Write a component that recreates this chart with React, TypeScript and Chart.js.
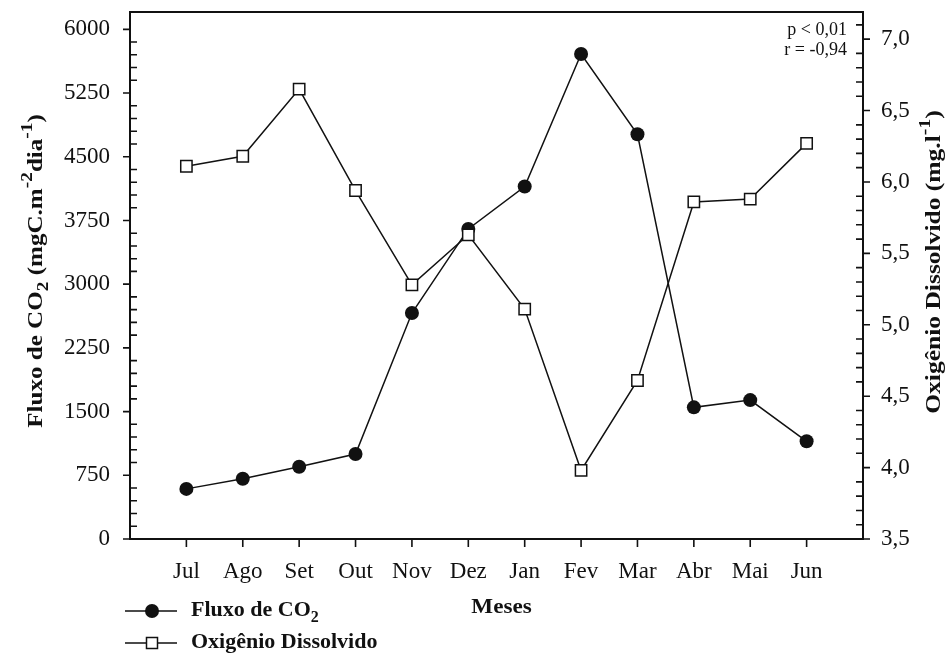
import React, { useEffect, useRef } from 'react';
import { Chart, registerables } from 'chart.js';

Chart.register(...registerables);

// Monthly series
const months = ['Jul', 'Ago', 'Set', 'Out', 'Nov', 'Dez', 'Jan', 'Fev', 'Mar', 'Abr', 'Mai', 'Jun'];
const co2Flux = [590, 710, 850, 1000, 2660, 3650, 4150, 5710, 4765, 1550, 1635, 1150];
const dissolvedO2 = [6.11, 6.18, 6.65, 5.94, 5.28, 5.63, 5.11, 3.98, 4.61, 5.86, 5.88, 6.27];

// Axis tick values
const fluxTicks = [0, 750, 1500, 2250, 3000, 3750, 4500, 5250, 6000];
const oxygenTicks = [3.5, 4.0, 4.5, 5.0, 5.5, 6.0, 6.5, 7.0];

// Correlation statistics shown in the corner
const statsLines = ['p < 0,01', 'r = -0,94'];

const FONT = '"Liberation Serif", "Times New Roman", serif';
const INK = '#111';

type Seg = { t: string; size: number; dy: number };

// Draws a run of text pieces (with sub/superscripts) on one baseline,
// optionally stretched along the text direction.
function drawRich(
  ctx: CanvasRenderingContext2D,
  segs: Seg[],
  x: number,
  y: number,
  align: 'left' | 'center',
  weight: string,
  sx = 1
) {
  let total = 0;
  for (const s of segs) {
    ctx.font = `${weight} ${s.size}px ${FONT}`;
    total += ctx.measureText(s.t).width;
  }
  ctx.save();
  ctx.translate(x, y);
  ctx.scale(sx, 1);
  let cx = align === 'center' ? -total / 2 : 0;
  ctx.textAlign = 'left';
  ctx.textBaseline = 'alphabetic';
  for (const s of segs) {
    ctx.font = `${weight} ${s.size}px ${FONT}`;
    ctx.fillText(s.t, cx, s.dy);
    cx += ctx.measureText(s.t).width;
  }
  ctx.restore();
}

const fluxTitle: Seg[] = [
  { t: 'Fluxo de CO', size: 22, dy: 0 },
  { t: '2', size: 17, dy: 6 },
  { t: ' (mgC.m', size: 22, dy: 0 },
  { t: '-2', size: 17, dy: -10 },
  { t: 'dia', size: 22, dy: 0 },
  { t: '-1', size: 17, dy: -10 },
  { t: ')', size: 22, dy: 0 },
];

const oxygenTitle: Seg[] = [
  { t: 'Oxigênio Dissolvido (mg.l', size: 22, dy: 0 },
  { t: '-1', size: 17, dy: -10 },
  { t: ')', size: 22, dy: 0 },
];

const fluxLegend: Seg[] = [
  { t: 'Fluxo de CO', size: 22, dy: 0 },
  { t: '2', size: 16, dy: 6 },
];

const decorPlugin = {
  id: 'decor',
  afterDraw(chart: any) {
    const { ctx, chartArea: a, scales } = chart;
    const xs = scales.x;
    const yl = scales.yFlux;
    const yr = scales.yO2;
    ctx.save();
    ctx.strokeStyle = INK;
    ctx.fillStyle = INK;

    // frame
    ctx.lineWidth = 2;
    ctx.strokeRect(a.left, a.top, a.right - a.left, a.bottom - a.top);

    ctx.lineWidth = 1.6;
    ctx.beginPath();
    // left axis: major ticks outward, minor ticks inward
    const fStep = (fluxTicks[1] - fluxTicks[0]) / 5;
    const fCount = Math.round((fluxTicks[fluxTicks.length - 1] - fluxTicks[0]) / fStep);
    for (let i = 0; i <= fCount; i++) {
      const py = yl.getPixelForValue(fluxTicks[0] + i * fStep);
      if (i % 5 === 0) {
        ctx.moveTo(a.left - 7, py);
        ctx.lineTo(a.left, py);
      } else {
        ctx.moveTo(a.left, py);
        ctx.lineTo(a.left + 7, py);
      }
    }
    // right axis
    const oStep = (oxygenTicks[1] - oxygenTicks[0]) / 5;
    for (let i = 0; ; i++) {
      const v = oxygenTicks[0] + i * oStep;
      if (v > yr.max + 1e-9) break;
      const py = yr.getPixelForValue(v);
      if (i % 5 === 0) {
        ctx.moveTo(a.right, py);
        ctx.lineTo(a.right + 7, py);
      } else {
        ctx.moveTo(a.right - 7, py);
        ctx.lineTo(a.right, py);
      }
    }
    // month ticks
    months.forEach((_, i) => {
      const px = xs.getPixelForValue(i + 1);
      ctx.moveTo(px, a.bottom);
      ctx.lineTo(px, a.bottom + 8);
    });
    ctx.stroke();

    // axis titles
    ctx.save();
    ctx.translate(42, 271);
    ctx.rotate(-Math.PI / 2);
    drawRich(ctx, fluxTitle, 0, 0, 'center', 'bold', 1.14);
    ctx.restore();

    ctx.save();
    ctx.translate(940, 262);
    ctx.rotate(-Math.PI / 2);
    drawRich(ctx, oxygenTitle, 0, 0, 'center', 'bold', 1.16);
    ctx.restore();

    // x title
    drawRich(ctx, [{ t: 'Meses', size: 22, dy: 0 }], (a.left + a.right) / 2 + 5, 613, 'center', 'bold', 1.05);

    // statistics
    ctx.font = `18px ${FONT}`;
    ctx.textAlign = 'right';
    ctx.textBaseline = 'alphabetic';
    statsLines.forEach((s, i) => ctx.fillText(s, a.right - 16, 35 + i * 20));

    // legend
    const lx0 = 125;
    const lx1 = 177;
    const lxm = 152;
    const ly1 = 611;
    const ly2 = 643;
    ctx.lineWidth = 1.5;
    ctx.beginPath();
    ctx.moveTo(lx0, ly1);
    ctx.lineTo(lx1, ly1);
    ctx.moveTo(lx0, ly2);
    ctx.lineTo(lx1, ly2);
    ctx.stroke();
    ctx.beginPath();
    ctx.arc(lxm, ly1, 7, 0, Math.PI * 2);
    ctx.fill();
    ctx.fillStyle = '#fff';
    ctx.fillRect(lxm - 5.5, ly2 - 5.5, 11, 11);
    ctx.strokeRect(lxm - 5.5, ly2 - 5.5, 11, 11);
    ctx.fillStyle = INK;
    drawRich(ctx, fluxLegend, 191, ly1 + 5, 'left', 'bold');
    drawRich(ctx, [{ t: 'Oxigênio Dissolvido', size: 22, dy: 0 }], 191, ly2 + 5, 'left', 'bold');

    ctx.restore();
  },
};

const noEdgePadding = (s: any) => {
  s.paddingTop = 0;
  s.paddingBottom = 0;
  s.paddingLeft = 0;
  s.paddingRight = 0;
};

export default function App() {
  const canvasRef = useRef<HTMLCanvasElement | null>(null);

  useEffect(() => {
    const canvas = canvasRef.current;
    if (!canvas) return;
    Chart.defaults.font.family = FONT;
    Chart.defaults.color = INK;

    const chart = new Chart(canvas, {
      type: 'line',
      data: {
        datasets: [
          {
            label: 'Oxigênio Dissolvido',
            data: dissolvedO2.map((v, i) => ({ x: i + 1, y: v })),
            yAxisID: 'yO2',
            borderColor: INK,
            borderWidth: 1.5,
            backgroundColor: '#fff',
            pointStyle: 'rect',
            pointRadius: 8,
            pointBorderWidth: 1.5,
            pointBorderColor: INK,
            pointBackgroundColor: '#fff',
            tension: 0,
            order: 0,
          },
          {
            label: 'Fluxo de CO2',
            data: co2Flux.map((v, i) => ({ x: i + 1, y: v })),
            yAxisID: 'yFlux',
            borderColor: INK,
            borderWidth: 1.5,
            backgroundColor: INK,
            pointStyle: 'circle',
            pointRadius: 7,
            pointBorderWidth: 0,
            pointBackgroundColor: INK,
            tension: 0,
            order: 1,
          },
        ],
      },
      options: {
        responsive: false,
        animation: false,
        layout: { padding: { top: 12, left: 0, right: 0, bottom: 0 } },
        plugins: {
          legend: { display: false },
          tooltip: { enabled: false },
        },
        scales: {
          x: {
            type: 'linear',
            min: 0,
            max: months.length + 1,
            afterBuildTicks: (s: any) => {
              s.ticks = months.map((_, i) => ({ value: i + 1 }));
            },
            afterFit: (s: any) => {
              s.height = 116;
              noEdgePadding(s);
            },
            ticks: {
              autoSkip: false,
              maxRotation: 0,
              padding: 19,
              color: INK,
              font: { size: 23 },
              callback: (v: any) => months[Number(v) - 1] ?? '',
            },
            grid: { display: false, drawTicks: false },
            border: { display: false },
          },
          yFlux: {
            type: 'linear',
            position: 'left',
            min: 0,
            max: 6204,
            afterBuildTicks: (s: any) => {
              s.ticks = fluxTicks.map((v) => ({ value: v }));
            },
            afterFit: (s: any) => {
              s.width = 130;
              noEdgePadding(s);
            },
            ticks: {
              padding: 20,
              color: INK,
              font: { size: 23 },
              callback: (v: any) => String(v),
            },
            grid: { display: false, drawTicks: false },
            border: { display: false },
          },
          yO2: {
            type: 'linear',
            position: 'right',
            min: 3.5,
            max: 7.19,
            afterBuildTicks: (s: any) => {
              s.ticks = oxygenTicks.map((v) => ({ value: v }));
            },
            afterFit: (s: any) => {
              s.width = 83;
              noEdgePadding(s);
            },
            ticks: {
              padding: 18,
              color: INK,
              font: { size: 23 },
              callback: (v: any) => Number(v).toFixed(1).replace('.', ','),
            },
            grid: { display: false, drawTicks: false },
            border: { display: false },
          },
        },
      },
      plugins: [decorPlugin],
    });

    return () => chart.destroy();
  }, []);

  return (
    <div style={{ position: 'fixed', left: 0, top: 0, width: 946, height: 655, background: '#fff' }}>
      <canvas ref={canvasRef} width={946} height={655} />
    </div>
  );
}
